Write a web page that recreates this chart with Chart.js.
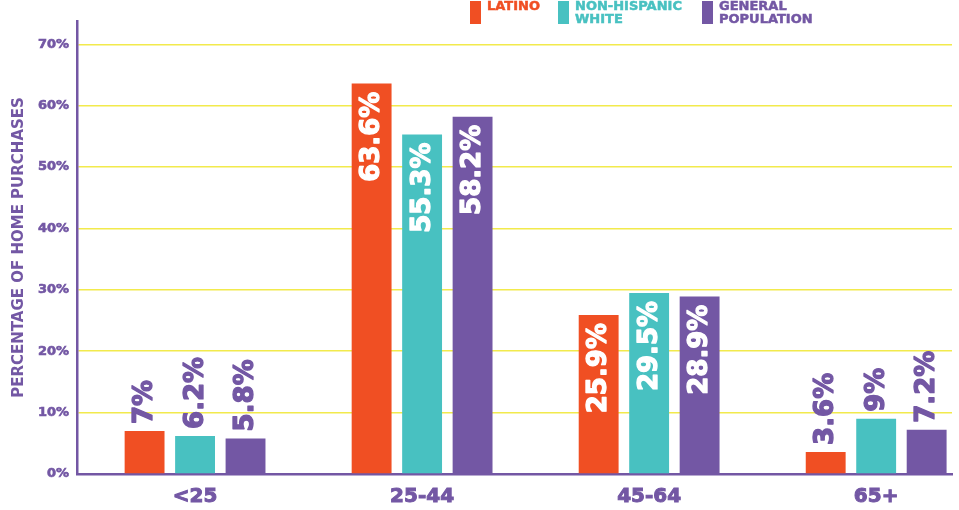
<!DOCTYPE html>
<html>
<head>
<meta charset="utf-8">
<script src="https://cdn.jsdelivr.net/npm/chart.js@4/dist/chart.umd.min.js"></script>
<style>
    html, body { margin: 0; padding: 0; background: #fff; }
    #wrap { width: 959px; height: 510px; }
</style>
</head>
<body>
<div id="wrap"><canvas id="homeChart"></canvas></div>
<script>
const categories = ["<25", "25-44", "45-64", "65+"];
const latino = [7, 63.6, 25.9, 3.6];
const nonHispanicWhite = [6.2, 55.3, 29.5, 9];
const generalPopulation = [5.8, 58.2, 28.9, 7.2];
const yTicks = [0, 10, 20, 30, 40, 50, 60, 70];
const seriesNames = [["LATINO"], ["NON-HISPANIC", "WHITE"], ["GENERAL", "POPULATION"]];

const PURPLE = "#7357a4";
const ORANGE = "#f04f23";
const TEAL = "#48c1c1";
const YELLOW = "#f2ea4c";
const FONT = "'DejaVu Sans', sans-serif";

document.addEventListener("DOMContentLoaded", function () {
    const ctx = document.getElementById("homeChart").getContext("2d");

    const toPoints = arr => arr.map((v, i) => ({ x: i, y: v }));

    // legend drawn by hand because of the two-line labels
    const legendPlugin = {
        id: "topLegend",
        afterDraw(chart) {
            const c = chart.ctx;
            const xs = [470, 558, 702];
            c.save();
            chart.data.datasets.forEach((ds, i) => {
                c.fillStyle = ds.backgroundColor;
                c.strokeStyle = ds.backgroundColor;
                c.lineWidth = 0.5;
                c.fillRect(xs[i], 1, 11, 23);
                c.font = "bold 13px " + FONT;
                c.textBaseline = "alphabetic";
                seriesNames[i].forEach((line, j) => {
                    c.strokeText(line, xs[i] + 17, 10 + j * 13);
                    c.fillText(line, xs[i] + 17, 10 + j * 13);
                });
            });
            c.restore();
        }
    };

    // value labels rotated along the bars
    const valuePlugin = {
        id: "valueLabels",
        afterDatasetsDraw(chart) {
            const c = chart.ctx;
            c.save();
            c.font = "bold 26px " + FONT;
            c.textBaseline = "middle";
            c.lineWidth = 1.3;
            c.lineJoin = "round";
            chart.data.datasets.forEach((ds, di) => {
                const meta = chart.getDatasetMeta(di);
                meta.data.forEach((bar, i) => {
                    const v = ds.data[i].y;
                    const txt = v + "%";
                    c.save();
                    if (v > 20) {
                        c.translate(bar.x, bar.y + 8);
                        c.rotate(-Math.PI / 2);
                        c.textAlign = "right";
                        c.fillStyle = "#ffffff";
                    } else {
                        c.translate(bar.x, bar.y - 7);
                        c.rotate(-Math.PI / 2);
                        c.textAlign = "left";
                        c.fillStyle = PURPLE;
                    }
                    c.strokeStyle = c.fillStyle;
                    c.strokeText(txt, 0, 1);
                    c.fillText(txt, 0, 1);
                    c.restore();
                });
            });
            c.restore();
        }
    };

    new Chart(ctx, {
        type: "bar",
        data: {
            datasets: [
                { label: "Latino", data: toPoints(latino), backgroundColor: ORANGE },
                { label: "Non-Hispanic White", data: toPoints(nonHispanicWhite), backgroundColor: TEAL },
                { label: "General Population", data: toPoints(generalPopulation), backgroundColor: PURPLE }
            ]
        },
        options: {
            responsive: true,
            maintainAspectRatio: false,
            animation: false,
            categoryPercentage: 0.667,
            barPercentage: 0.79,
            layout: { padding: { top: 21, right: 7, left: 0, bottom: 0 } },
            plugins: {
                legend: { display: false },
                tooltip: { enabled: false }
            },
            scales: {
                x: {
                    type: "linear",
                    offset: false,
                    min: -0.52,
                    max: 3.334,
                    afterBuildTicks: scale => { scale.ticks = categories.map((c, i) => ({ value: i })); },
                    afterFit: scale => { scale.height = 36; },
                    grid: { display: false, drawTicks: false, offset: false },
                    border: { color: PURPLE, width: 2.5 },
                    ticks: {
                        autoSkip: false,
                        maxRotation: 0,
                        padding: 11,
                        color: PURPLE,
                        textStrokeColor: PURPLE,
                        textStrokeWidth: 1,
                        font: { family: FONT, size: 20, weight: "bold" },
                        callback: v => categories[v]
                    }
                },
                y: {
                    min: 0,
                    max: 73.8,
                    afterBuildTicks: scale => { scale.ticks = yTicks.map(v => ({ value: v })); },
                    afterFit: scale => { scale.width = 77; },
                    grid: { color: YELLOW, lineWidth: 1.5, drawTicks: false },
                    border: { color: PURPLE, width: 2.5 },
                    ticks: {
                        padding: 8,
                        color: PURPLE,
                        textStrokeColor: PURPLE,
                        textStrokeWidth: 0.6,
                        font: { family: FONT, size: 13, weight: "bold" },
                        callback: v => v + "%"
                    },
                    title: {
                        display: true,
                        text: "PERCENTAGE OF HOME PURCHASES",
                        color: PURPLE,
                        padding: { top: 10, bottom: 4 },
                        font: { family: FONT, size: 15, weight: "bold" }
                    }
                }
            }
        },
        plugins: [legendPlugin, valuePlugin]
    });
});
</script>
</body>
</html>
